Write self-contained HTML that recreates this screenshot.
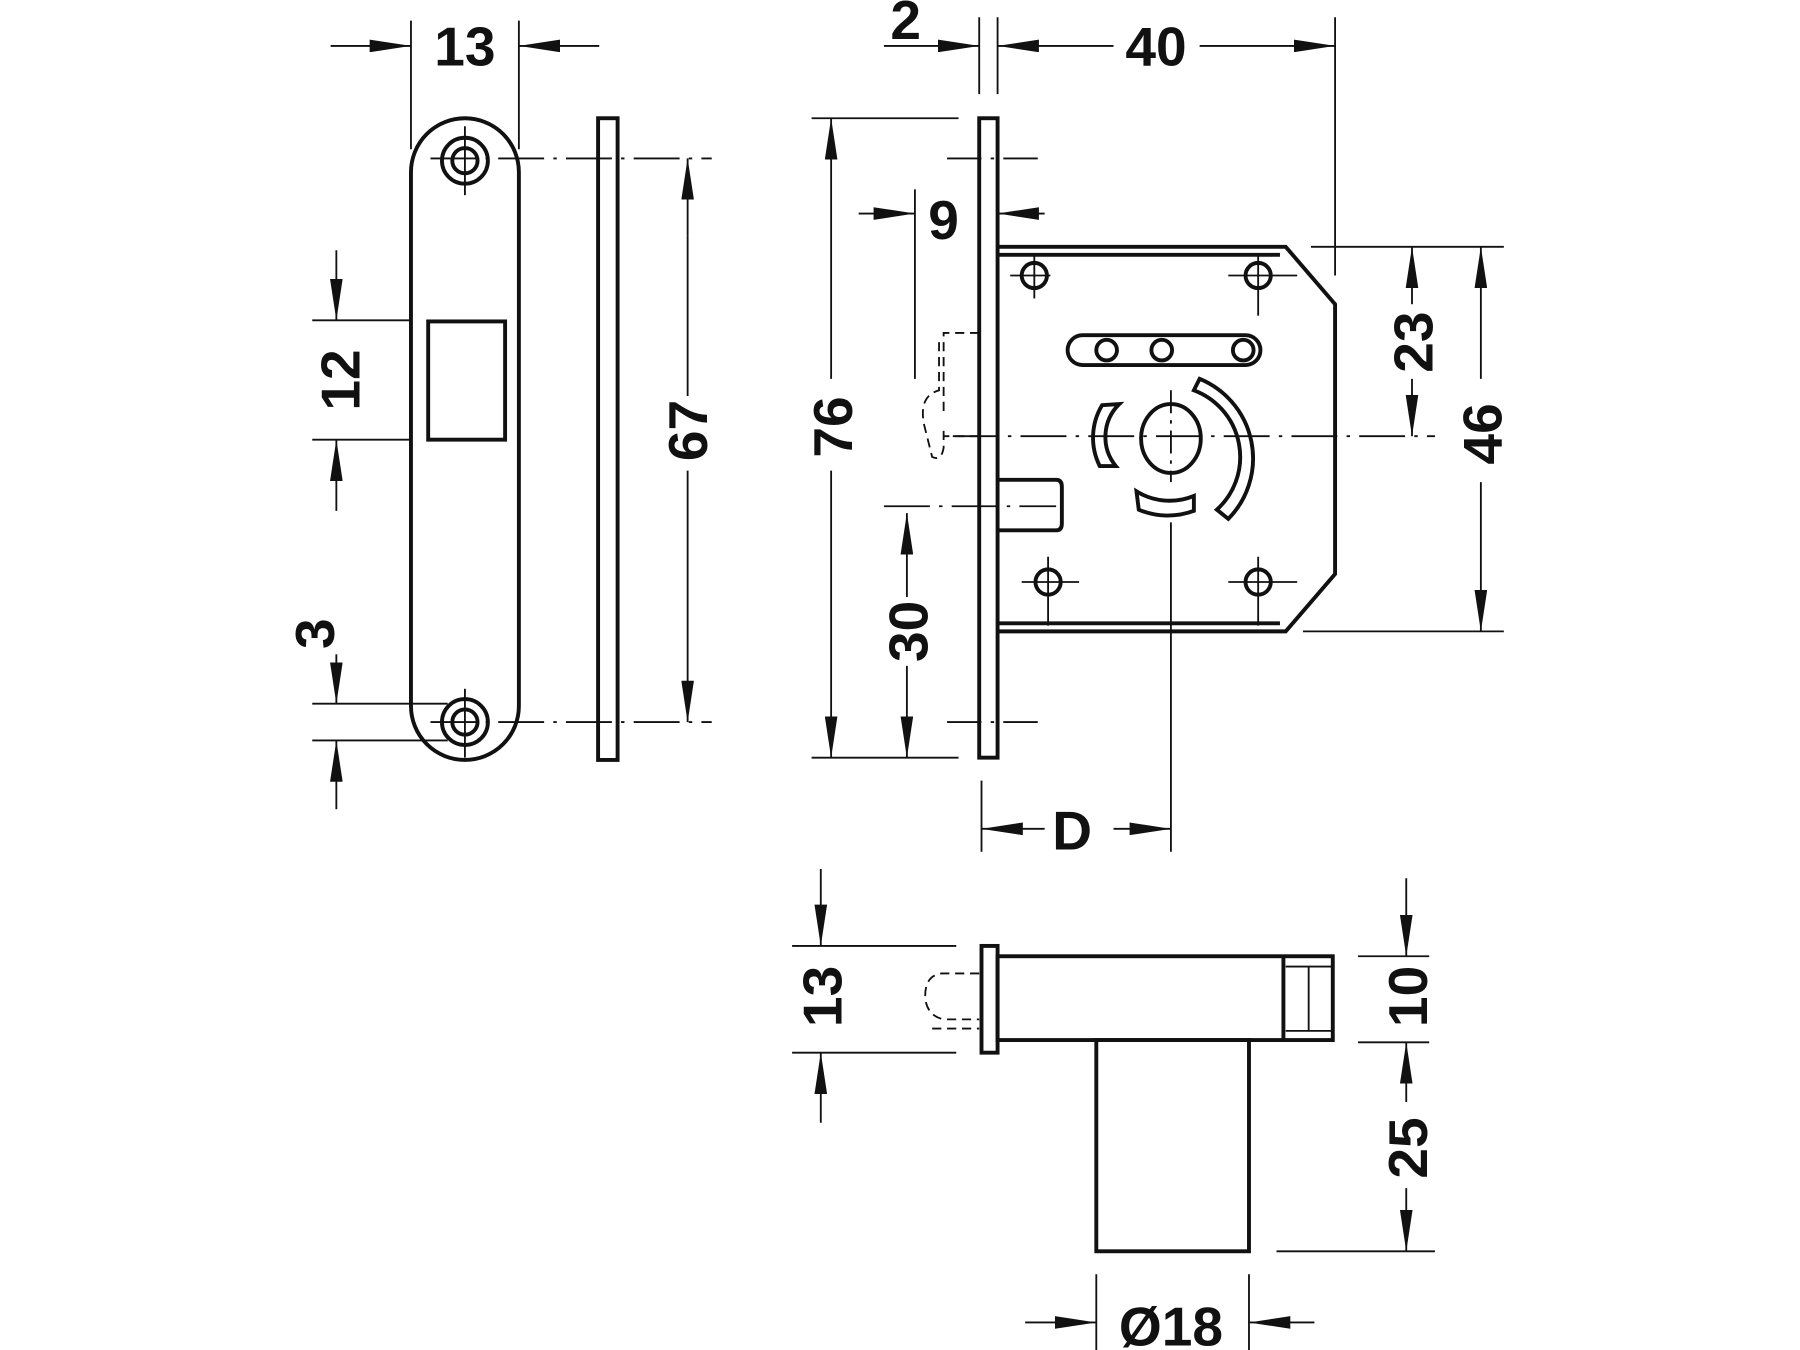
<!DOCTYPE html>
<html><head><meta charset="utf-8"><style>
html,body{margin:0;padding:0;background:#fff;}
svg{display:block;}
text{font-family:"Liberation Sans",Arial,sans-serif;font-weight:bold;font-size:48px;fill:#111;}
</style></head><body>
<svg width="1800" height="1350" viewBox="0 0 1568 1176" preserveAspectRatio="none" xmlns="http://www.w3.org/2000/svg">
<defs>
<marker id="a" viewBox="0 0 36 11" refX="36" refY="5.5" markerWidth="36" markerHeight="11" markerUnits="userSpaceOnUse" orient="auto"><path d="M0,0L36,5.5L0,11z" fill="#111"/></marker>
</defs>
<g stroke="#111" fill="none">
<g stroke-width="1.6">
<line x1="358" y1="18" x2="358" y2="130"/><line x1="452" y1="18" x2="452" y2="130"/>
<line x1="288" y1="40" x2="358" y2="40" marker-end="url(#a)"/><line x1="522" y1="40" x2="452" y2="40" marker-end="url(#a)"/>
<line x1="272" y1="279" x2="358" y2="279"/><line x1="272" y1="383" x2="358" y2="383"/>
<line x1="293" y1="218" x2="293" y2="279" marker-end="url(#a)"/><line x1="293" y1="445" x2="293" y2="383" marker-end="url(#a)"/>
<line x1="272" y1="613" x2="390" y2="613"/><line x1="272" y1="645" x2="390" y2="645"/>
<line x1="293" y1="570" x2="293" y2="613" marker-end="url(#a)"/><line x1="293" y1="705" x2="293" y2="645" marker-end="url(#a)"/>
<line x1="375" y1="138" x2="620" y2="138" stroke-dasharray="40 8 3 8"/>
<line x1="375" y1="629" x2="620" y2="629" stroke-dasharray="40 8 3 8"/>
<line x1="405" y1="110" x2="405" y2="170"/><line x1="405" y1="600" x2="405" y2="660"/>
<line x1="599" y1="205" x2="599" y2="138" marker-end="url(#a)"/><line x1="599" y1="205" x2="599" y2="345"/>
<line x1="599" y1="410" x2="599" y2="629" marker-end="url(#a)"/>
<line x1="853" y1="15" x2="853" y2="82"/><line x1="869" y1="15" x2="869" y2="82"/><line x1="1163" y1="15" x2="1163" y2="240"/>
<line x1="770" y1="40" x2="853" y2="40" marker-end="url(#a)"/>
<line x1="970" y1="40" x2="869" y2="40" marker-end="url(#a)"/><line x1="1045" y1="40" x2="1163" y2="40" marker-end="url(#a)"/>
<line x1="707" y1="103" x2="835" y2="103"/><line x1="707" y1="660" x2="835" y2="660"/>
<line x1="724" y1="330" x2="724" y2="103" marker-end="url(#a)"/><line x1="724" y1="410" x2="724" y2="660" marker-end="url(#a)"/>
<line x1="797" y1="165" x2="797" y2="330"/>
<line x1="748" y1="186" x2="797" y2="186" marker-end="url(#a)"/><line x1="910" y1="186" x2="869" y2="186" marker-end="url(#a)"/>
<line x1="790" y1="520" x2="790" y2="447" marker-end="url(#a)"/><line x1="790" y1="580" x2="790" y2="660" marker-end="url(#a)"/>
<line x1="770" y1="441" x2="920" y2="441" stroke-dasharray="40 8 3 8"/>
<line x1="830" y1="380" x2="1250" y2="380" stroke-dasharray="40 8 3 8"/>
<line x1="825" y1="138" x2="912" y2="138" stroke-dasharray="30 8 3 8"/>
<line x1="825" y1="629" x2="912" y2="629" stroke-dasharray="30 8 3 8"/>
<line x1="1020" y1="340" x2="1020" y2="420" stroke-dasharray="20 6 3 6"/>
<line x1="1020" y1="455" x2="1020" y2="742"/>
<line x1="1142" y1="215" x2="1310" y2="215"/><line x1="1135" y1="550" x2="1310" y2="550"/>
<line x1="1230" y1="265" x2="1230" y2="215" marker-end="url(#a)"/><line x1="1230" y1="330" x2="1230" y2="380" marker-end="url(#a)"/>
<line x1="1290" y1="330" x2="1290" y2="215" marker-end="url(#a)"/><line x1="1290" y1="420" x2="1290" y2="550" marker-end="url(#a)"/>
<line x1="855" y1="680" x2="855" y2="742"/>
<line x1="910" y1="722" x2="855" y2="722" marker-end="url(#a)"/><line x1="970" y1="722" x2="1020" y2="722" marker-end="url(#a)"/>
<line x1="880" y1="240" x2="915" y2="240"/><line x1="901" y1="222" x2="901" y2="260"/>
<line x1="1070" y1="240" x2="1130" y2="240"/><line x1="1096" y1="222" x2="1096" y2="275"/>
<line x1="890" y1="507" x2="940" y2="507"/><line x1="913" y1="485" x2="913" y2="545"/>
<line x1="1070" y1="507" x2="1130" y2="507"/><line x1="1096" y1="485" x2="1096" y2="545"/>
<line x1="690" y1="824" x2="833" y2="824"/><line x1="690" y1="917" x2="833" y2="917"/>
<line x1="715" y1="757" x2="715" y2="824" marker-end="url(#a)"/><line x1="715" y1="978" x2="715" y2="917" marker-end="url(#a)"/>
<line x1="1183" y1="833" x2="1245" y2="833"/><line x1="1183" y1="908" x2="1245" y2="908"/><line x1="1112" y1="1090" x2="1250" y2="1090"/>
<line x1="1225" y1="765" x2="1225" y2="833" marker-end="url(#a)"/>
<line x1="1225" y1="960" x2="1225" y2="908" marker-end="url(#a)"/><line x1="1225" y1="1035" x2="1225" y2="1090" marker-end="url(#a)"/>
<line x1="955" y1="1110" x2="955" y2="1176"/><line x1="1088" y1="1110" x2="1088" y2="1176"/>
<line x1="893" y1="1152" x2="955" y2="1152" marker-end="url(#a)"/><line x1="1145" y1="1152" x2="1088" y2="1152" marker-end="url(#a)"/>
</g>
<g stroke-width="3.4">
<rect x="358" y="103" width="94" height="559" rx="47"/>
<circle cx="405" cy="140" r="20"/><circle cx="405" cy="140" r="11"/>
<circle cx="405" cy="629" r="20"/><circle cx="405" cy="629" r="11"/>
<rect x="373" y="280" width="67" height="103"/>
<rect x="521" y="103" width="17" height="559"/>
<rect x="853" y="103" width="16" height="557"/>
<path d="M869,215H1120L1163,265V500L1120,550H869"/>
<line x1="869" y1="222" x2="1115" y2="222"/>
<line x1="869" y1="543" x2="1115" y2="543"/>
<circle cx="901" cy="240" r="11"/><circle cx="1096" cy="240" r="11"/>
<circle cx="913" cy="507" r="11"/><circle cx="1096" cy="507" r="11"/>
<rect x="930" y="292" width="168" height="26" rx="13"/>
<circle cx="964" cy="305" r="9"/><circle cx="1012" cy="305" r="9"/><circle cx="1083" cy="305" r="9"/>
<ellipse cx="1020" cy="382" rx="26" ry="30"/>
<path d="M1045,330 A75,75 0 0 1 1070,452 L1060,444 A62,62 0 0 0 1040,340Z"/>
<path d="M960,353 L975,352 A40,40 0 0 0 972,406 L958,406 A55,55 0 0 1 960,353Z"/>
<path d="M990,428 A55,55 0 0 0 1040,432 L1040,445 A65,65 0 0 1 992,444Z"/>
<path d="M869,418H920Q925,418 925,424V456Q925,462 920,462H869"/>
<rect x="855" y="824" width="14" height="93"/>
<rect x="869" y="833" width="292" height="73"/>
<line x1="1118" y1="833" x2="1118" y2="906"/>
<rect x="955" y="906" width="133" height="184"/>
</g>
<g stroke-width="1.6">
<line x1="1120" y1="842" x2="1161" y2="842"/><line x1="1120" y1="898" x2="1161" y2="898"/><line x1="1140" y1="842" x2="1140" y2="898"/>
<g stroke-dasharray="8 5">
<path d="M853,290H822V360"/><path d="M853,380H822"/>
<path d="M818,298V340Q800,345 805,370L812,398Q820,402 822,390V375"/>
<path d="M853,848H820Q805,850 806,870Q808,885 822,888H853"/>
<line x1="812" y1="896" x2="853" y2="896"/>
</g>
</g>
</g>
<g>
<text x="405" y="57" text-anchor="middle">13</text>
<text x="789" y="34" text-anchor="middle">2</text>
<text x="1007" y="57" text-anchor="middle">40</text>
<text x="822" y="208" text-anchor="middle">9</text>
<text x="934" y="740" text-anchor="middle">D</text>
<text x="1020" y="1172" text-anchor="middle">Ø18</text>
<text transform="translate(313,331) rotate(-90)" text-anchor="middle">12</text>
<text transform="translate(291,552) rotate(-90)" text-anchor="middle">3</text>
<text transform="translate(616,375) rotate(-90)" text-anchor="middle">67</text>
<text transform="translate(742,372) rotate(-90)" text-anchor="middle">76</text>
<text transform="translate(808,550) rotate(-90)" text-anchor="middle">30</text>
<text transform="translate(1248,298) rotate(-90)" text-anchor="middle">23</text>
<text transform="translate(1308,378) rotate(-90)" text-anchor="middle">46</text>
<text transform="translate(733,868) rotate(-90)" text-anchor="middle">13</text>
<text transform="translate(1243,868) rotate(-90)" text-anchor="middle">10</text>
<text transform="translate(1243,1000) rotate(-90)" text-anchor="middle">25</text>
</g>
</svg>
</body></html>
